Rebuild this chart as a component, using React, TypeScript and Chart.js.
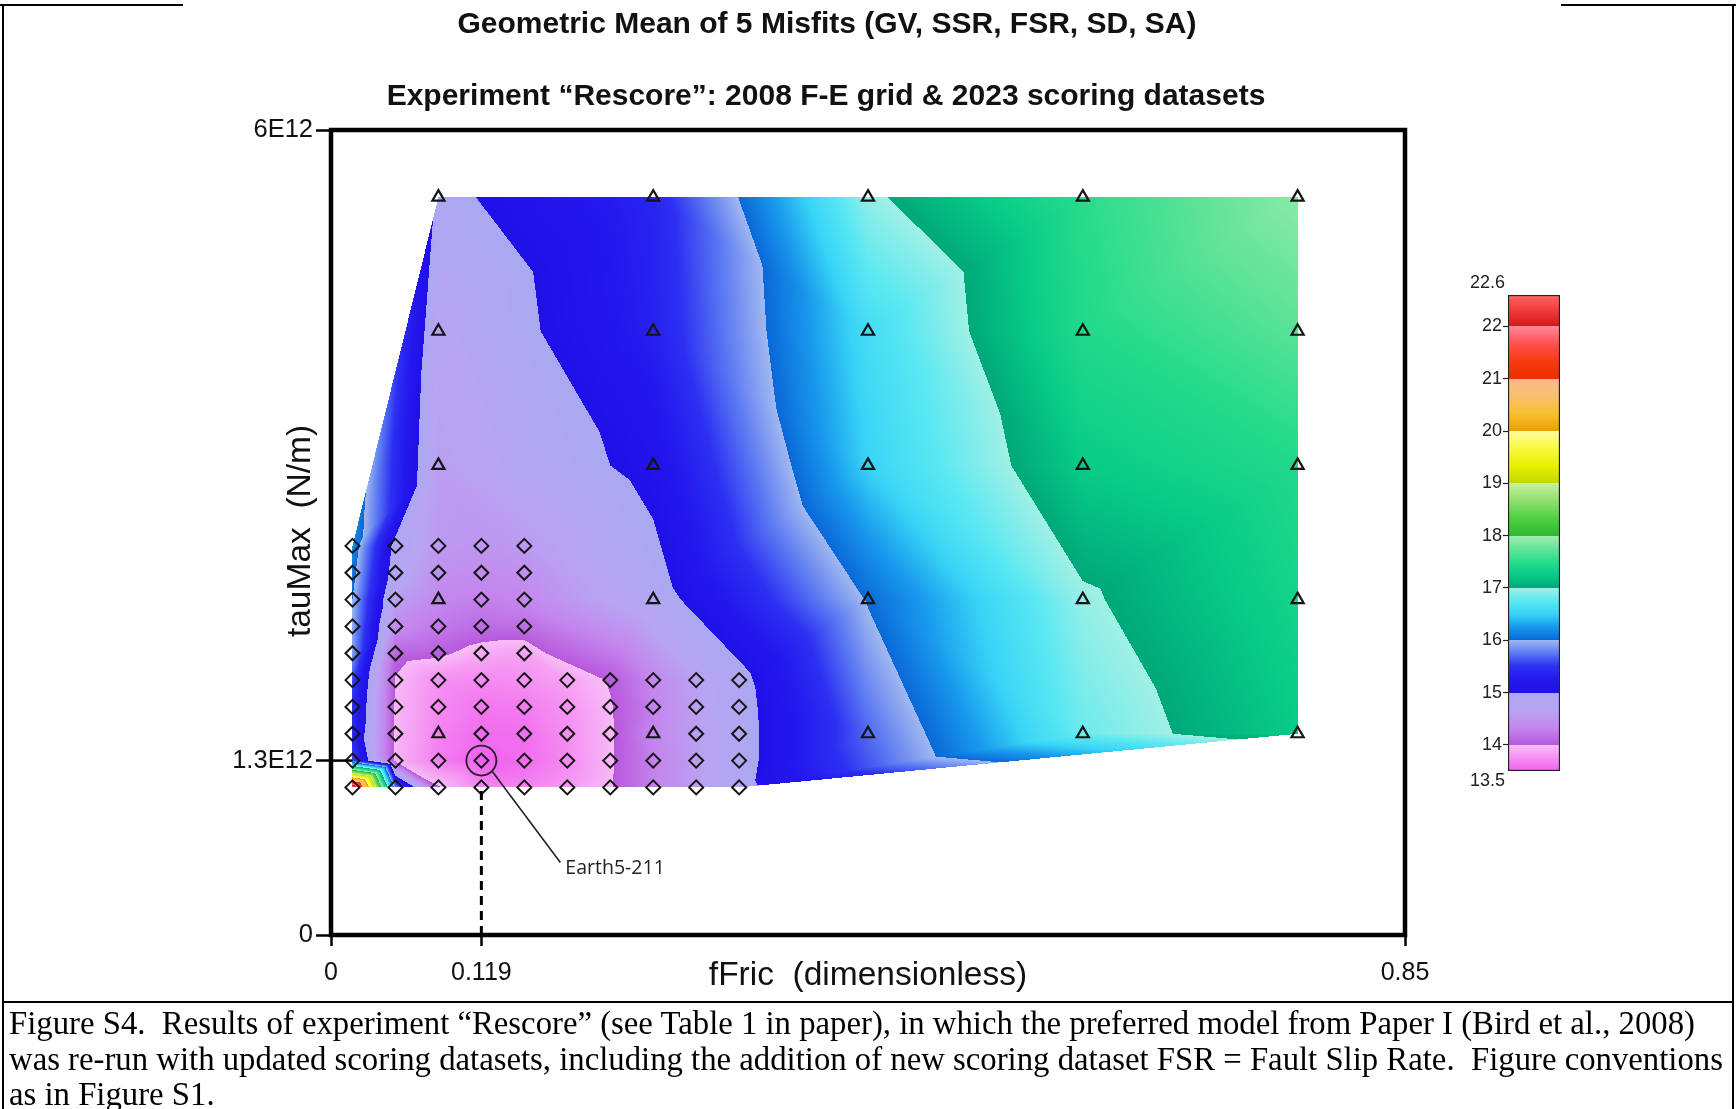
import React, { useEffect, useRef } from 'react';
import { Chart, registerables } from 'chart.js';
Chart.register(...registerables);

// ---------------- data ----------------
const coarseFric = [0.085, 0.255, 0.425, 0.595, 0.765];
const coarseTau = [5.5e12, 4.5e12, 3.5e12, 2.5e12, 1.5e12];
const coarseMisfit = [
  [14.92, 15.38, 16.95, 17.5, 17.9],
  [14.7, 15.33, 16.6, 17.45, 17.7],
  [14.6, 15.1, 16.5, 17.25, 17.45],
  [14.35, 14.85, 16.02, 16.96, 17.35],
  [13.68, 14.35, 15.7, 16.82, 17.25],
];

const fineFric = [0.017, 0.051, 0.085, 0.119, 0.153, 0.187, 0.221, 0.255, 0.289, 0.323];
const fineTauUpper = [2.9e12, 2.7e12, 2.5e12, 2.3e12, 2.1e12];
const fineMisfitUpper = [
  [16.2, 14.88, 14.55, 14.5, 14.55],
  [16.1, 14.8, 14.45, 14.4, 14.45],
  [16.0, 14.6, 14.35, 14.3, 14.35],
  [15.95, 14.4, 14.25, 14.15, 14.15],
  [15.9, 14.1, 14.05, 13.9, 13.85],
];
const fineTauLower = [1.9e12, 1.7e12, 1.5e12, 1.3e12, 1.1e12];
const fineMisfitLower = [
  [15.6, 13.98, 13.75, 13.72, 13.75, 13.85, 14.02, 14.35, 14.65, 14.9],
  [15.5, 13.96, 13.72, 13.62, 13.64, 13.78, 13.98, 14.3, 14.62, 14.88],
  [15.4, 13.96, 13.68, 13.56, 13.58, 13.74, 13.97, 14.35, 14.6, 14.87],
  [15.6, 13.95, 13.66, 13.5, 13.56, 13.72, 13.97, 14.3, 14.6, 14.87],
  [22.6, 15.8, 14.02, 13.7, 13.68, 13.8, 13.98, 14.3, 14.6, 14.9],
];

const bestFric = 0.119;
const bestTau = 1.3e12;
const bestLabel = 'Earth5-211';

const xTickValues = [0, 0.119, 0.85];
const xTickLabels = ['0', '0.119', '0.85'];
const yTickValues = [0, 1.3e12, 6e12];
const yTickLabels = ['0', '1.3E12', '6E12'];

const colorbarMin = 13.5;
const colorbarMax = 22.6;
const colorbarTicks = [14, 15, 16, 17, 18, 19, 20, 21, 22];

const titleLine1 = 'Geometric Mean of 5 Misfits (GV, SSR, FSR, SD, SA)';
const titleLine2 = 'Experiment \u201cRescore\u201d: 2008 F-E grid & 2023 scoring datasets';
const xTitle = 'fFric  (dimensionless)';
const yTitle = 'tauMax  (N/m)';
const captionLines = [
  'Figure S4.  Results of experiment \u201cRescore\u201d (see Table 1 in paper), in which the preferred model from Paper I (Bird et al., 2008)',
  'was re-run with updated scoring datasets, including the addition of new scoring dataset FSR = Fault Slip Rate.  Figure conventions',
  'as in Figure S1.',
];

// colour bands (low value colour first)
const bandLo = [13.5, 14, 15, 16, 17, 18, 19, 20, 21, 22];
const bandHi = [14, 15, 16, 17, 18, 19, 20, 21, 22, 22.6];
const bandColors = [
  ['#f060ee', '#f590f2', '#f7bdf7'],
  ['#b858dc', '#c486ee', '#b8a4f2', '#aaa8f2'],
  ['#2010e8', '#2418ee', '#2c30f2', '#5a78f2', '#a0b8f0'],
  ['#0a68d8', '#1898ec', '#38d4f6', '#5ae8f2', '#a0f0e4'],
  ['#00a878', '#08cc88', '#28dc8c', '#66e49a', '#a0eeb0'],
  ['#30b830', '#50d040', '#90e070', '#c8f0a0'],
  ['#c0d800', '#e8f000', '#f8f840', '#fffca0'],
  ['#e8a000', '#f8c030', '#f8c070', '#ffb88c'],
  ['#e83000', '#f83a10', '#ff5050', '#ff8898'],
  ['#d01818', '#f03a3a', '#ff6464'],
];

// ---------------- helpers ----------------
const SANS = "'Liberation Sans', Arial, Helvetica, sans-serif";

type Pt = { x: number; y: number; v: number };

const coarsePts: Pt[] = [];
coarseTau.forEach((t, i) => coarseFric.forEach((f, j) => coarsePts.push({ x: f, y: t, v: coarseMisfit[i][j] })));
const finePts: Pt[] = [];
fineTauUpper.forEach((t, i) => fineMisfitUpper[i].forEach((v, j) => finePts.push({ x: fineFric[j], y: t, v })));
fineTauLower.forEach((t, i) => fineMisfitLower[i].forEach((v, j) => finePts.push({ x: fineFric[j], y: t, v })));
const ptKey = (p: Pt) => p.x.toFixed(3) + '|' + (p.y / 1e12).toFixed(2);
const coarseKeys = new Set(coarsePts.map(ptKey));
const diamondPts = finePts.filter((p) => !coarseKeys.has(ptKey(p)));
const fieldPts = coarsePts.concat(diamondPts);

const hexToRgb = (h: string) => [parseInt(h.slice(1, 3), 16), parseInt(h.slice(3, 5), 16), parseInt(h.slice(5, 7), 16)];
const bandRgb = bandColors.map((cs) => cs.map(hexToRgb));

function colorAt(v: number): number[] {
  let k = bandLo.length - 1;
  for (let i = 0; i < bandHi.length; i++) {
    if (v < bandHi[i]) { k = i; break; }
  }
  const cols = bandRgb[k];
  const t = Math.min(1, Math.max(0, (v - bandLo[k]) / (bandHi[k] - bandLo[k])));
  const s = t * (cols.length - 1);
  const i0 = Math.min(cols.length - 2, Math.floor(s));
  const f = s - i0;
  const a = cols[i0], b = cols[i0 + 1];
  return [a[0] + (b[0] - a[0]) * f, a[1] + (b[1] - a[1]) * f, a[2] + (b[2] - a[2]) * f];
}

function triangulate(px: number[], py: number[]): number[][] {
  const n = px.length;
  let minX = Infinity, minY = Infinity, maxX = -Infinity, maxY = -Infinity;
  for (let i = 0; i < n; i++) {
    minX = Math.min(minX, px[i]); maxX = Math.max(maxX, px[i]);
    minY = Math.min(minY, py[i]); maxY = Math.max(maxY, py[i]);
  }
  const mx = (minX + maxX) / 2, my = (minY + maxY) / 2;
  const d = Math.max(maxX - minX, maxY - minY) * 60;
  const vx = px.map((x, i) => x - mx + ((i * 37) % 11) * 1e-4);
  const vy = py.map((y, i) => y - my + ((i * 53) % 7) * 1e-4);
  vx.push(-d, d, 0);
  vy.push(-d, -d, d);
  type T = { a: number; b: number; c: number; ux: number; uy: number; r2: number };
  const circ = (a: number, b: number, c: number): T => {
    const ax = vx[a], ay = vy[a], bx = vx[b], by = vy[b], cx = vx[c], cy = vy[c];
    const D = 2 * (ax * (by - cy) + bx * (cy - ay) + cx * (ay - by));
    const a2 = ax * ax + ay * ay, b2 = bx * bx + by * by, c2 = cx * cx + cy * cy;
    const ux = (a2 * (by - cy) + b2 * (cy - ay) + c2 * (ay - by)) / D;
    const uy = (a2 * (cx - bx) + b2 * (ax - cx) + c2 * (bx - ax)) / D;
    return { a, b, c, ux, uy, r2: (ax - ux) ** 2 + (ay - uy) ** 2 };
  };
  let tris: T[] = [circ(n, n + 1, n + 2)];
  for (let i = 0; i < n; i++) {
    const x = vx[i], y = vy[i];
    const bad: T[] = [];
    const good: T[] = [];
    for (const t of tris) {
      const dx = x - t.ux, dy = y - t.uy;
      if (dx * dx + dy * dy < t.r2) bad.push(t); else good.push(t);
    }
    const edges = new Map<string, number[] | null>();
    for (const t of bad) {
      for (const [u, w] of [[t.a, t.b], [t.b, t.c], [t.c, t.a]]) {
        const k = u < w ? u + ',' + w : w + ',' + u;
        if (edges.has(k)) edges.set(k, null); else edges.set(k, [u, w]);
      }
    }
    tris = good;
    edges.forEach((e) => { if (e) tris.push(circ(e[0], e[1], i)); });
  }
  return tris.filter((t) => t.a < n && t.b < n && t.c < n).map((t) => [t.a, t.b, t.c]);
}

const fieldPlugin = {
  id: 'misfitField',
  beforeDatasetsDraw(chart: any) {
    const { ctx, chartArea, scales } = chart;
    const L = chartArea.left, T = chartArea.top;
    const W = Math.ceil(chartArea.right - L), H = Math.ceil(chartArea.bottom - T);
    const px = fieldPts.map((p) => scales.x.getPixelForValue(p.x) - L);
    const py = fieldPts.map((p) => scales.y.getPixelForValue(p.y) - T);
    const vals = fieldPts.map((p) => p.v);
    const tris = triangulate(px, py);
    const off = document.createElement('canvas');
    off.width = W; off.height = H;
    const octx = off.getContext('2d')!;
    const img = octx.createImageData(W, H);
    const data = img.data;
    for (const [a, b, c] of tris) {
      const x1 = px[a], y1 = py[a], x2 = px[b], y2 = py[b], x3 = px[c], y3 = py[c];
      const v1 = vals[a], v2 = vals[b], v3 = vals[c];
      const det = (y2 - y3) * (x1 - x3) + (x3 - x2) * (y1 - y3);
      if (Math.abs(det) < 1e-9) continue;
      const minx = Math.max(0, Math.floor(Math.min(x1, x2, x3)) - 1);
      const maxx = Math.min(W - 1, Math.ceil(Math.max(x1, x2, x3)) + 1);
      const miny = Math.max(0, Math.floor(Math.min(y1, y2, y3)) - 1);
      const maxy = Math.min(H - 1, Math.ceil(Math.max(y1, y2, y3)) + 1);
      for (let yy = miny; yy <= maxy; yy++) {
        const cy = yy + 0.5;
        for (let xx = minx; xx <= maxx; xx++) {
          const cx = xx + 0.5;
          const l1 = ((y2 - y3) * (cx - x3) + (x3 - x2) * (cy - y3)) / det;
          const l2 = ((y3 - y1) * (cx - x3) + (x1 - x3) * (cy - y3)) / det;
          const l3 = 1 - l1 - l2;
          if (l1 < -1e-6 || l2 < -1e-6 || l3 < -1e-6) continue;
          const col = colorAt(l1 * v1 + l2 * v2 + l3 * v3);
          const idx = (yy * W + xx) * 4;
          data[idx] = col[0]; data[idx + 1] = col[1]; data[idx + 2] = col[2]; data[idx + 3] = 255;
        }
      }
    }
    octx.putImageData(img, 0, 0);
    ctx.save();
    ctx.drawImage(off, L, T);
    ctx.restore();
  },
};

const decorPlugin = {
  id: 'decor',
  afterDatasetsDraw(chart: any) {
    const { ctx, chartArea, scales } = chart;
    ctx.save();
    ctx.strokeStyle = '#000';
    ctx.lineWidth = 4.5;
    ctx.strokeRect(chartArea.left, chartArea.top, chartArea.right - chartArea.left, chartArea.bottom - chartArea.top);
    // leader line + label for preferred model
    const cx = scales.x.getPixelForValue(bestFric);
    const cy = scales.y.getPixelForValue(bestTau);
    ctx.lineWidth = 1.6;
    ctx.strokeStyle = '#222';
    ctx.beginPath();
    ctx.moveTo(cx + 11, cy + 11);
    ctx.lineTo(cx + 79, cy + 102);
    ctx.stroke();
    ctx.fillStyle = '#222';
    ctx.font = "19.5px 'Open Sans', 'Liberation Sans', sans-serif";
    ctx.textAlign = 'left';
    ctx.textBaseline = 'middle';
    ctx.fillText(bestLabel, cx + 84, cy + 108);
    ctx.restore();
  },
  afterDraw(chart: any) {
    const { ctx } = chart;
    ctx.save();
    ctx.fillStyle = '#111';
    ctx.textAlign = 'center';
    ctx.textBaseline = 'middle';
    ctx.font = `bold 30px ${SANS}`;
    ctx.fillText(titleLine1, 827, 25);
    ctx.fillText(titleLine2, 826, 97);
    ctx.font = `33.5px ${SANS}`;
    ctx.fillText(xTitle, 868, 976);
    ctx.translate(301, 531);
    ctx.rotate(-Math.PI / 2);
    ctx.fillText(yTitle, 0, 0);
    ctx.restore();
  },
};

const cbEndLabels = {
  id: 'cbEnds',
  afterDraw(chart: any) {
    const { ctx, chartArea } = chart;
    ctx.save();
    ctx.fillStyle = '#222';
    ctx.font = `18px ${SANS}`;
    ctx.textAlign = 'right';
    ctx.textBaseline = 'middle';
    ctx.fillText(String(colorbarMax), chartArea.left - 3, chartArea.top - 12);
    ctx.fillText(String(colorbarMin), chartArea.left - 3, chartArea.bottom + 10);
    ctx.restore();
  },
};

export default function App() {
  const mainRef = useRef<HTMLCanvasElement>(null);
  const cbRef = useRef<HTMLCanvasElement>(null);

  useEffect(() => {
    document.body.style.margin = '0';
    const markerColor = '#151515';
    const main = new Chart(mainRef.current as HTMLCanvasElement, {
      type: 'scatter',
      data: {
        datasets: [
          {
            label: 'fFric marker',
            data: [{ x: bestFric, y: 0 }, { x: bestFric, y: fineTauLower[fineTauLower.length - 1] }],
            showLine: true, borderColor: '#000', borderWidth: 3, borderDash: [9, 6], pointRadius: 0,
          },
          {
            label: 'tauMax marker',
            data: [{ x: 0, y: bestTau }, { x: fineFric[0], y: bestTau }],
            showLine: true, borderColor: '#000', borderWidth: 2.5, pointRadius: 0,
          },
          {
            label: 'coarse grid',
            data: coarsePts,
            pointStyle: 'triangle', pointRadius: 7, borderColor: markerColor, borderWidth: 2.2,
            backgroundColor: 'rgba(0,0,0,0)',
          },
          {
            label: 'fine grid',
            data: diamondPts,
            pointStyle: 'rectRot', pointRadius: 7, borderColor: markerColor, borderWidth: 2,
            backgroundColor: 'rgba(0,0,0,0)',
          },
          {
            label: 'preferred',
            data: [{ x: bestFric, y: bestTau }],
            pointStyle: 'circle', pointRadius: 15, borderColor: '#222', borderWidth: 1.8,
            backgroundColor: 'rgba(0,0,0,0)',
          },
        ] as any,
      },
      options: {
        animation: false,
        responsive: false,
        devicePixelRatio: 1,
        events: [],
        layout: { padding: { left: 0, top: 130, right: 331, bottom: 0 } },
        plugins: { legend: { display: false }, tooltip: { enabled: false }, title: { display: false } },
        scales: {
          x: {
            type: 'linear', min: 0, max: 0.85,
            afterBuildTicks: (s: any) => { s.ticks = xTickValues.map((v) => ({ value: v })); },
            afterFit: (s: any) => { s.height = 65; },
            ticks: {
              callback: (_v: any, i: number) => xTickLabels[i],
              font: { family: SANS, size: 25 }, color: '#111', padding: 12, maxRotation: 0, autoSkip: false,
            },
            grid: { display: true, drawOnChartArea: false, drawTicks: true, tickLength: 11, tickWidth: 2.5, tickColor: '#000' },
            border: { display: false },
          },
          y: {
            type: 'linear', min: 0, max: 6e12,
            afterBuildTicks: (s: any) => { s.ticks = yTickValues.map((v) => ({ value: v })); },
            afterFit: (s: any) => { s.width = 331; },
            ticks: {
              callback: (_v: any, i: number) => yTickLabels[i],
              font: { family: SANS, size: 25.5 }, color: '#111', padding: 3, autoSkip: false,
            },
            grid: { display: true, drawOnChartArea: false, drawTicks: true, tickLength: 15, tickWidth: 2.5, tickColor: '#000' },
            border: { display: false },
          },
        },
      } as any,
      plugins: [fieldPlugin, decorPlugin],
    });

    const cb = new Chart(cbRef.current as HTMLCanvasElement, {
      type: 'bar',
      data: {
        labels: [''],
        datasets: [
          {
            label: 'misfit scale',
            data: [[colorbarMin, colorbarMax]] as any,
            backgroundColor: (c: any) => {
              const ch = c.chart;
              const { chartArea, scales } = ch;
              if (!chartArea) return 'rgba(0,0,0,0)';
              const y0 = scales.y.getPixelForValue(colorbarMin);
              const y1 = scales.y.getPixelForValue(colorbarMax);
              const g = ch.ctx.createLinearGradient(0, y0, 0, y1);
              bandColors.forEach((cols, k) => {
                cols.forEach((col, i) => {
                  const v = bandLo[k] + ((bandHi[k] - bandLo[k]) * i) / (cols.length - 1);
                  const off = Math.min(1, Math.max(0, (v - colorbarMin) / (colorbarMax - colorbarMin)));
                  g.addColorStop(off, col);
                });
              });
              return g;
            },
            borderColor: '#222', borderWidth: 1.5, borderSkipped: false,
            barPercentage: 1, categoryPercentage: 1,
          },
        ],
      },
      options: {
        animation: false,
        responsive: false,
        devicePixelRatio: 1,
        events: [],
        layout: { padding: { left: 0, top: 45, right: 40, bottom: 39 } },
        plugins: { legend: { display: false }, tooltip: { enabled: false } },
        scales: {
          x: { display: false },
          y: {
            min: colorbarMin, max: colorbarMax,
            afterBuildTicks: (s: any) => { s.ticks = colorbarTicks.map((v) => ({ value: v })); },
            afterFit: (s: any) => { s.width = 108; },
            ticks: { font: { family: SANS, size: 18 }, color: '#222', padding: 1, autoSkip: false },
            grid: { display: true, drawOnChartArea: false, tickLength: 5, tickWidth: 1.2, tickColor: '#222' },
            border: { display: false },
          },
        },
      } as any,
      plugins: [cbEndLabels],
    });

    return () => { main.destroy(); cb.destroy(); };
  }, []);

  const line = (l: number, t: number, w: number, h: number) => (
    <div style={{ position: 'absolute', left: l, top: t, width: w, height: h, background: '#000' }} />
  );

  return (
    <div style={{ position: 'absolute', left: 0, top: 0, width: 1736, height: 1109, background: '#fff', overflow: 'hidden' }}>
      <canvas ref={mainRef} width={1736} height={1000} style={{ position: 'absolute', left: 0, top: 0, width: 1736, height: 1000 }} />
      <canvas ref={cbRef} width={200} height={560} style={{ position: 'absolute', left: 1400, top: 250, width: 200, height: 560 }} />
      {line(0, 4, 183, 2)}
      {line(1561, 4, 175, 2)}
      {line(2, 4, 2, 1105)}
      {line(1732, 4, 2, 1105)}
      {line(2, 1001, 1732, 2)}
      <div
        style={{
          position: 'absolute', left: 9, top: 1006, whiteSpace: 'pre',
          fontFamily: "'Liberation Serif', 'Times New Roman', serif", fontSize: 32.75, lineHeight: '35.5px', color: '#000',
        }}
      >
        {captionLines.map((t, i) => (
          <div key={i}>{t}</div>
        ))}
      </div>
    </div>
  );
}
